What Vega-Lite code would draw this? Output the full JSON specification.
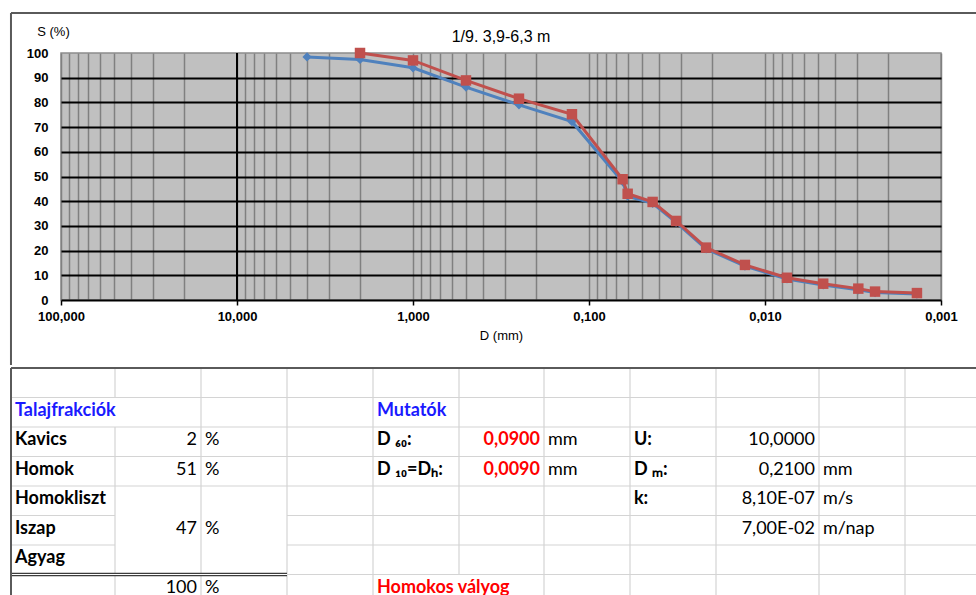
{
  "$schema": "https://vega.github.io/schema/vega-lite/v6.json",
  "background": "white",
  "padding": {"left": 9, "top": 11, "right": 0, "bottom": 0},
  "spacing": 0,
  "datasets": {
    "grading": [
      {"series": "mérés 1", "D": 4, "S": 98.4},
      {"series": "mérés 1", "D": 2, "S": 97.4},
      {"series": "mérés 1", "D": 1, "S": 94.0},
      {"series": "mérés 1", "D": 0.5, "S": 86.2},
      {"series": "mérés 1", "D": 0.25, "S": 79.0},
      {"series": "mérés 1", "D": 0.125, "S": 72.2},
      {"series": "mérés 1", "D": 0.0644, "S": 47.9},
      {"series": "mérés 1", "D": 0.0603, "S": 42.0},
      {"series": "mérés 1", "D": 0.0435, "S": 39.1},
      {"series": "mérés 1", "D": 0.032, "S": 31.4},
      {"series": "mérés 1", "D": 0.0216, "S": 20.7},
      {"series": "mérés 1", "D": 0.013, "S": 13.7},
      {"series": "mérés 1", "D": 0.0075, "S": 8.5},
      {"series": "mérés 1", "D": 0.00467, "S": 6.1},
      {"series": "mérés 1", "D": 0.00295, "S": 4.1},
      {"series": "mérés 1", "D": 0.00237, "S": 3.0},
      {"series": "mérés 1", "D": 0.00137, "S": 2.4},
      {"series": "mérés 2", "D": 2, "S": 100},
      {"series": "mérés 2", "D": 1, "S": 97.0},
      {"series": "mérés 2", "D": 0.5, "S": 88.9},
      {"series": "mérés 2", "D": 0.25, "S": 81.5},
      {"series": "mérés 2", "D": 0.125, "S": 75.2},
      {"series": "mérés 2", "D": 0.0644, "S": 48.9},
      {"series": "mérés 2", "D": 0.0603, "S": 43.0},
      {"series": "mérés 2", "D": 0.0435, "S": 39.7},
      {"series": "mérés 2", "D": 0.032, "S": 32.0},
      {"series": "mérés 2", "D": 0.0216, "S": 21.2},
      {"series": "mérés 2", "D": 0.013, "S": 14.2},
      {"series": "mérés 2", "D": 0.0075, "S": 9.0},
      {"series": "mérés 2", "D": 0.00467, "S": 6.6},
      {"series": "mérés 2", "D": 0.00295, "S": 4.6},
      {"series": "mérés 2", "D": 0.00237, "S": 3.4},
      {"series": "mérés 2", "D": 0.00137, "S": 2.8}
    ],
    "cells": [
      {"r": 1, "c0": 0, "c1": 2, "text": "Talajfrakciók", "kind": "heading"},
      {"r": 1, "c0": 4, "c1": 5, "text": "Mutatók", "kind": "heading"},
      {"r": 2, "c0": 0, "c1": 1, "text": "Kavics", "kind": "label"},
      {"r": 2, "c0": 1, "c1": 2, "text": "2", "kind": "number"},
      {"r": 2, "c0": 2, "c1": 3, "text": "%", "kind": "unit"},
      {"r": 2, "c0": 4, "c1": 5, "text": "D ₆₀:", "kind": "label"},
      {"r": 2, "c0": 5, "c1": 6, "text": "0,0900", "kind": "result"},
      {"r": 2, "c0": 6, "c1": 7, "text": "mm", "kind": "unit"},
      {"r": 2, "c0": 7, "c1": 8, "text": "U:", "kind": "label"},
      {"r": 2, "c0": 8, "c1": 9, "text": "10,0000", "kind": "number"},
      {"r": 3, "c0": 0, "c1": 1, "text": "Homok", "kind": "label"},
      {"r": 3, "c0": 1, "c1": 2, "text": "51", "kind": "number"},
      {"r": 3, "c0": 2, "c1": 3, "text": "%", "kind": "unit"},
      {"r": 3, "c0": 4, "c1": 5, "text": "D ₁₀=Dₕ:", "kind": "label"},
      {"r": 3, "c0": 5, "c1": 6, "text": "0,0090", "kind": "result"},
      {"r": 3, "c0": 6, "c1": 7, "text": "mm", "kind": "unit"},
      {"r": 3, "c0": 7, "c1": 8, "text": "D ₘ:", "kind": "label"},
      {"r": 3, "c0": 8, "c1": 9, "text": "0,2100", "kind": "number"},
      {"r": 3, "c0": 9, "c1": 10, "text": "mm", "kind": "unit"},
      {"r": 4, "c0": 0, "c1": 1, "text": "Homokliszt", "kind": "label"},
      {"r": 4, "c0": 7, "c1": 8, "text": "k:", "kind": "label"},
      {"r": 4, "c0": 8, "c1": 9, "text": "8,10E-07", "kind": "number"},
      {"r": 4, "c0": 9, "c1": 10, "text": "m/s", "kind": "unit"},
      {"r": 5, "c0": 0, "c1": 1, "text": "Iszap", "kind": "label"},
      {"r": 5, "c0": 1, "c1": 2, "text": "47", "kind": "number"},
      {"r": 5, "c0": 2, "c1": 3, "text": "%", "kind": "unit"},
      {"r": 5, "c0": 8, "c1": 9, "text": "7,00E-02", "kind": "number"},
      {"r": 5, "c0": 9, "c1": 10, "text": "m/nap", "kind": "unit"},
      {"r": 6, "c0": 0, "c1": 1, "text": "Agyag", "kind": "label"},
      {"r": 7, "c0": 1, "c1": 2, "text": "100", "kind": "number"},
      {"r": 7, "c0": 2, "c1": 3, "text": "%", "kind": "unit"},
      {"r": 7, "c0": 4, "c1": 6, "text": "Homokos vályog", "kind": "class"}
    ],
    "rowLines": [
      {"r": 1, "c0": 0, "c1": 11},
      {"r": 2, "c0": 0, "c1": 11},
      {"r": 3, "c0": 0, "c1": 11},
      {"r": 4, "c0": 0, "c1": 11},
      {"r": 5, "c0": 0, "c1": 1},
      {"r": 5, "c0": 3, "c1": 11},
      {"r": 6, "c0": 0, "c1": 1},
      {"r": 6, "c0": 3, "c1": 11},
      {"r": 7, "c0": 3, "c1": 11}
    ],
    "totalLine": [
      {"r": 7, "c0": 0, "c1": 3}
    ],
    "colLines": [
      {"c": 1, "r0": 0, "r1": 1},
      {"c": 1, "r0": 2, "r1": 8},
      {"c": 2, "r0": 0, "r1": 8},
      {"c": 3, "r0": 0, "r1": 8},
      {"c": 4, "r0": 0, "r1": 8},
      {"c": 5, "r0": 0, "r1": 7},
      {"c": 6, "r0": 0, "r1": 8},
      {"c": 7, "r0": 0, "r1": 8},
      {"c": 8, "r0": 0, "r1": 8},
      {"c": 9, "r0": 0, "r1": 8},
      {"c": 10, "r0": 0, "r1": 8}
    ],
    "sheetEdge": [
      {"r0": 0, "r1": 8, "c0": 0, "c1": 11}
    ],
    "chartFrame": [
      {"Dleft": 192.4, "Dright": 0.000632, "Stop": 116.2, "Sbottom": -26.3}
    ]
  },
  "vconcat": [
    {
      "width": 880,
      "height": 247,
      "view": {"fill": "#c0c0c0", "stroke": "#8c8c8c", "strokeWidth": 1.5},
      "title": {
        "text": "1/9. 3,9-6,3 m",
        "frame": "group",
        "anchor": "middle",
        "baseline": "middle",
        "offset": -41,
        "font": "Liberation Sans",
        "fontSize": 16,
        "fontWeight": "normal",
        "color": "#000000"
      },
      "layer": [
        {
          "data": {"name": "chartFrame"},
          "mark": {"type": "rule", "color": "#5a5a5a", "strokeWidth": 2},
          "encoding": {
            "x": {"field": "Dleft", "type": "quantitative", "scale": {"type": "log", "domain": [0.001, 100], "reverse": true, "nice": false},
              "axis": {"values": [100, 90, 80, 70, 60, 50, 40, 30, 20, 10, 9, 8, 7, 6, 5, 4, 3, 2, 1, 0.9, 0.8, 0.7, 0.6, 0.5, 0.4, 0.3, 0.2, 0.1, 0.09, 0.08, 0.07, 0.06, 0.05, 0.04, 0.03, 0.02, 0.01, 0.009, 0.008, 0.007, 0.006, 0.005, 0.004, 0.003, 0.002, 0.001], "grid": true, "gridColor": "#808080", "gridWidth": 1.5, "domain": true, "domainColor": "#000000", "domainWidth": 2, "ticks": true, "tickColor": "#000000", "tickWidth": 1.5, "tickSize": 5, "tickOpacity": {"condition": {"test": "abs(log(datum.value)/LN10 - round(log(datum.value)/LN10)) < 0.001", "value": 1}, "value": 0}, "labelExpr": "abs(log(datum.value)/LN10 - round(log(datum.value)/LN10)) < 0.001 ? replace(format(datum.value, '.3f'), '.', ',') : ''", "labelOverlap": false, "labelFlush": false, "labelFont": "Liberation Sans", "labelFontSize": 13, "labelFontWeight": "bold", "labelColor": "#000000", "labelPadding": 5, "title": "D (mm)", "titleFont": "Liberation Sans", "titleFontSize": 13, "titleFontWeight": "normal", "titleColor": "#000000", "titlePadding": 6}},
            "x2": {"field": "Dright"},
            "y": {"field": "Stop", "type": "quantitative", "scale": {"domain": [0, 100], "nice": false},
              "axis": {"values": [0, 10, 20, 30, 40, 50, 60, 70, 80, 90, 100], "grid": true, "gridColor": "#000000", "gridWidth": 2, "gridOpacity": {"condition": {"test": "datum.value == 0 || datum.value == 100", "value": 0}, "value": 1}, "domain": false, "ticks": false, "labelOverlap": false, "labelFont": "Liberation Sans", "labelFontSize": 13, "labelFontWeight": "bold", "labelColor": "#000000", "labelPadding": 13, "title": "S (%)", "titleAngle": 0, "titleX": -8, "titleY": -22, "titleAlign": "center", "titleBaseline": "middle", "titleFont": "Liberation Sans", "titleFontSize": 13, "titleFontWeight": "normal", "titleColor": "#000000"}}
          }
        },
        {
          "data": {"name": "chartFrame"},
          "mark": {"type": "rule", "color": "#5a5a5a", "strokeWidth": 2},
          "encoding": {
            "x": {"field": "Dleft", "type": "quantitative", "scale": {"type": "log", "domain": [0.001, 100], "reverse": true, "nice": false},
              "axis": {"values": [100, 90, 80, 70, 60, 50, 40, 30, 20, 10, 9, 8, 7, 6, 5, 4, 3, 2, 1, 0.9, 0.8, 0.7, 0.6, 0.5, 0.4, 0.3, 0.2, 0.1, 0.09, 0.08, 0.07, 0.06, 0.05, 0.04, 0.03, 0.02, 0.01, 0.009, 0.008, 0.007, 0.006, 0.005, 0.004, 0.003, 0.002, 0.001], "grid": true, "gridColor": "#808080", "gridWidth": 1.5, "domain": true, "domainColor": "#000000", "domainWidth": 2, "ticks": true, "tickColor": "#000000", "tickWidth": 1.5, "tickSize": 5, "tickOpacity": {"condition": {"test": "abs(log(datum.value)/LN10 - round(log(datum.value)/LN10)) < 0.001", "value": 1}, "value": 0}, "labelExpr": "abs(log(datum.value)/LN10 - round(log(datum.value)/LN10)) < 0.001 ? replace(format(datum.value, '.3f'), '.', ',') : ''", "labelOverlap": false, "labelFlush": false, "labelFont": "Liberation Sans", "labelFontSize": 13, "labelFontWeight": "bold", "labelColor": "#000000", "labelPadding": 5, "title": "D (mm)", "titleFont": "Liberation Sans", "titleFontSize": 13, "titleFontWeight": "normal", "titleColor": "#000000", "titlePadding": 6}},
            "y": {"field": "Stop", "type": "quantitative", "scale": {"domain": [0, 100], "nice": false},
              "axis": {"values": [0, 10, 20, 30, 40, 50, 60, 70, 80, 90, 100], "grid": true, "gridColor": "#000000", "gridWidth": 2, "gridOpacity": {"condition": {"test": "datum.value == 0 || datum.value == 100", "value": 0}, "value": 1}, "domain": false, "ticks": false, "labelOverlap": false, "labelFont": "Liberation Sans", "labelFontSize": 13, "labelFontWeight": "bold", "labelColor": "#000000", "labelPadding": 13, "title": "S (%)", "titleAngle": 0, "titleX": -8, "titleY": -22, "titleAlign": "center", "titleBaseline": "middle", "titleFont": "Liberation Sans", "titleFontSize": 13, "titleFontWeight": "normal", "titleColor": "#000000"}},
            "y2": {"field": "Sbottom"}
          }
        },
        {
          "data": {"name": "chartFrame"},
          "mark": {"type": "rule", "color": "#000000", "strokeWidth": 2},
          "encoding": {
            "x": {"datum": 10, "type": "quantitative", "scale": {"type": "log", "domain": [0.001, 100], "reverse": true, "nice": false},
              "axis": {"values": [100, 90, 80, 70, 60, 50, 40, 30, 20, 10, 9, 8, 7, 6, 5, 4, 3, 2, 1, 0.9, 0.8, 0.7, 0.6, 0.5, 0.4, 0.3, 0.2, 0.1, 0.09, 0.08, 0.07, 0.06, 0.05, 0.04, 0.03, 0.02, 0.01, 0.009, 0.008, 0.007, 0.006, 0.005, 0.004, 0.003, 0.002, 0.001], "grid": true, "gridColor": "#808080", "gridWidth": 1.5, "domain": true, "domainColor": "#000000", "domainWidth": 2, "ticks": true, "tickColor": "#000000", "tickWidth": 1.5, "tickSize": 5, "tickOpacity": {"condition": {"test": "abs(log(datum.value)/LN10 - round(log(datum.value)/LN10)) < 0.001", "value": 1}, "value": 0}, "labelExpr": "abs(log(datum.value)/LN10 - round(log(datum.value)/LN10)) < 0.001 ? replace(format(datum.value, '.3f'), '.', ',') : ''", "labelOverlap": false, "labelFlush": false, "labelFont": "Liberation Sans", "labelFontSize": 13, "labelFontWeight": "bold", "labelColor": "#000000", "labelPadding": 5, "title": "D (mm)", "titleFont": "Liberation Sans", "titleFontSize": 13, "titleFontWeight": "normal", "titleColor": "#000000", "titlePadding": 6}}
          }
        },
        {
          "data": {"name": "grading"},
          "transform": [{"filter": "datum.series == 'mérés 1'"}],
          "mark": {"type": "line", "color": "#4f81bd", "strokeWidth": 3},
          "encoding": {
            "x": {"field": "D", "type": "quantitative", "scale": {"type": "log", "domain": [0.001, 100], "reverse": true, "nice": false},
              "axis": {"values": [100, 90, 80, 70, 60, 50, 40, 30, 20, 10, 9, 8, 7, 6, 5, 4, 3, 2, 1, 0.9, 0.8, 0.7, 0.6, 0.5, 0.4, 0.3, 0.2, 0.1, 0.09, 0.08, 0.07, 0.06, 0.05, 0.04, 0.03, 0.02, 0.01, 0.009, 0.008, 0.007, 0.006, 0.005, 0.004, 0.003, 0.002, 0.001], "grid": true, "gridColor": "#808080", "gridWidth": 1.5, "domain": true, "domainColor": "#000000", "domainWidth": 2, "ticks": true, "tickColor": "#000000", "tickWidth": 1.5, "tickSize": 5, "tickOpacity": {"condition": {"test": "abs(log(datum.value)/LN10 - round(log(datum.value)/LN10)) < 0.001", "value": 1}, "value": 0}, "labelExpr": "abs(log(datum.value)/LN10 - round(log(datum.value)/LN10)) < 0.001 ? replace(format(datum.value, '.3f'), '.', ',') : ''", "labelOverlap": false, "labelFlush": false, "labelFont": "Liberation Sans", "labelFontSize": 13, "labelFontWeight": "bold", "labelColor": "#000000", "labelPadding": 5, "title": "D (mm)", "titleFont": "Liberation Sans", "titleFontSize": 13, "titleFontWeight": "normal", "titleColor": "#000000", "titlePadding": 6}},
            "y": {"field": "S", "type": "quantitative", "scale": {"domain": [0, 100], "nice": false},
              "axis": {"values": [0, 10, 20, 30, 40, 50, 60, 70, 80, 90, 100], "grid": true, "gridColor": "#000000", "gridWidth": 2, "gridOpacity": {"condition": {"test": "datum.value == 0 || datum.value == 100", "value": 0}, "value": 1}, "domain": false, "ticks": false, "labelOverlap": false, "labelFont": "Liberation Sans", "labelFontSize": 13, "labelFontWeight": "bold", "labelColor": "#000000", "labelPadding": 13, "title": "S (%)", "titleAngle": 0, "titleX": -8, "titleY": -22, "titleAlign": "center", "titleBaseline": "middle", "titleFont": "Liberation Sans", "titleFontSize": 13, "titleFontWeight": "normal", "titleColor": "#000000"}}
          }
        },
        {
          "data": {"name": "grading"},
          "transform": [{"filter": "datum.series == 'mérés 1'"}],
          "mark": {"type": "point", "shape": "diamond", "filled": true, "opacity": 1, "size": 85, "color": "#4f81bd"},
          "encoding": {
            "x": {"field": "D", "type": "quantitative", "scale": {"type": "log", "domain": [0.001, 100], "reverse": true, "nice": false},
              "axis": {"values": [100, 90, 80, 70, 60, 50, 40, 30, 20, 10, 9, 8, 7, 6, 5, 4, 3, 2, 1, 0.9, 0.8, 0.7, 0.6, 0.5, 0.4, 0.3, 0.2, 0.1, 0.09, 0.08, 0.07, 0.06, 0.05, 0.04, 0.03, 0.02, 0.01, 0.009, 0.008, 0.007, 0.006, 0.005, 0.004, 0.003, 0.002, 0.001], "grid": true, "gridColor": "#808080", "gridWidth": 1.5, "domain": true, "domainColor": "#000000", "domainWidth": 2, "ticks": true, "tickColor": "#000000", "tickWidth": 1.5, "tickSize": 5, "tickOpacity": {"condition": {"test": "abs(log(datum.value)/LN10 - round(log(datum.value)/LN10)) < 0.001", "value": 1}, "value": 0}, "labelExpr": "abs(log(datum.value)/LN10 - round(log(datum.value)/LN10)) < 0.001 ? replace(format(datum.value, '.3f'), '.', ',') : ''", "labelOverlap": false, "labelFlush": false, "labelFont": "Liberation Sans", "labelFontSize": 13, "labelFontWeight": "bold", "labelColor": "#000000", "labelPadding": 5, "title": "D (mm)", "titleFont": "Liberation Sans", "titleFontSize": 13, "titleFontWeight": "normal", "titleColor": "#000000", "titlePadding": 6}},
            "y": {"field": "S", "type": "quantitative", "scale": {"domain": [0, 100], "nice": false},
              "axis": {"values": [0, 10, 20, 30, 40, 50, 60, 70, 80, 90, 100], "grid": true, "gridColor": "#000000", "gridWidth": 2, "gridOpacity": {"condition": {"test": "datum.value == 0 || datum.value == 100", "value": 0}, "value": 1}, "domain": false, "ticks": false, "labelOverlap": false, "labelFont": "Liberation Sans", "labelFontSize": 13, "labelFontWeight": "bold", "labelColor": "#000000", "labelPadding": 13, "title": "S (%)", "titleAngle": 0, "titleX": -8, "titleY": -22, "titleAlign": "center", "titleBaseline": "middle", "titleFont": "Liberation Sans", "titleFontSize": 13, "titleFontWeight": "normal", "titleColor": "#000000"}}
          }
        },
        {
          "data": {"name": "grading"},
          "transform": [{"filter": "datum.series == 'mérés 2'"}],
          "mark": {"type": "line", "color": "#c0504d", "strokeWidth": 3},
          "encoding": {
            "x": {"field": "D", "type": "quantitative", "scale": {"type": "log", "domain": [0.001, 100], "reverse": true, "nice": false},
              "axis": {"values": [100, 90, 80, 70, 60, 50, 40, 30, 20, 10, 9, 8, 7, 6, 5, 4, 3, 2, 1, 0.9, 0.8, 0.7, 0.6, 0.5, 0.4, 0.3, 0.2, 0.1, 0.09, 0.08, 0.07, 0.06, 0.05, 0.04, 0.03, 0.02, 0.01, 0.009, 0.008, 0.007, 0.006, 0.005, 0.004, 0.003, 0.002, 0.001], "grid": true, "gridColor": "#808080", "gridWidth": 1.5, "domain": true, "domainColor": "#000000", "domainWidth": 2, "ticks": true, "tickColor": "#000000", "tickWidth": 1.5, "tickSize": 5, "tickOpacity": {"condition": {"test": "abs(log(datum.value)/LN10 - round(log(datum.value)/LN10)) < 0.001", "value": 1}, "value": 0}, "labelExpr": "abs(log(datum.value)/LN10 - round(log(datum.value)/LN10)) < 0.001 ? replace(format(datum.value, '.3f'), '.', ',') : ''", "labelOverlap": false, "labelFlush": false, "labelFont": "Liberation Sans", "labelFontSize": 13, "labelFontWeight": "bold", "labelColor": "#000000", "labelPadding": 5, "title": "D (mm)", "titleFont": "Liberation Sans", "titleFontSize": 13, "titleFontWeight": "normal", "titleColor": "#000000", "titlePadding": 6}},
            "y": {"field": "S", "type": "quantitative", "scale": {"domain": [0, 100], "nice": false},
              "axis": {"values": [0, 10, 20, 30, 40, 50, 60, 70, 80, 90, 100], "grid": true, "gridColor": "#000000", "gridWidth": 2, "gridOpacity": {"condition": {"test": "datum.value == 0 || datum.value == 100", "value": 0}, "value": 1}, "domain": false, "ticks": false, "labelOverlap": false, "labelFont": "Liberation Sans", "labelFontSize": 13, "labelFontWeight": "bold", "labelColor": "#000000", "labelPadding": 13, "title": "S (%)", "titleAngle": 0, "titleX": -8, "titleY": -22, "titleAlign": "center", "titleBaseline": "middle", "titleFont": "Liberation Sans", "titleFontSize": 13, "titleFontWeight": "normal", "titleColor": "#000000"}}
          }
        },
        {
          "data": {"name": "grading"},
          "transform": [{"filter": "datum.series == 'mérés 2'"}],
          "mark": {"type": "point", "shape": "square", "filled": true, "opacity": 1, "size": 110, "color": "#c0504d"},
          "encoding": {
            "x": {"field": "D", "type": "quantitative", "scale": {"type": "log", "domain": [0.001, 100], "reverse": true, "nice": false},
              "axis": {"values": [100, 90, 80, 70, 60, 50, 40, 30, 20, 10, 9, 8, 7, 6, 5, 4, 3, 2, 1, 0.9, 0.8, 0.7, 0.6, 0.5, 0.4, 0.3, 0.2, 0.1, 0.09, 0.08, 0.07, 0.06, 0.05, 0.04, 0.03, 0.02, 0.01, 0.009, 0.008, 0.007, 0.006, 0.005, 0.004, 0.003, 0.002, 0.001], "grid": true, "gridColor": "#808080", "gridWidth": 1.5, "domain": true, "domainColor": "#000000", "domainWidth": 2, "ticks": true, "tickColor": "#000000", "tickWidth": 1.5, "tickSize": 5, "tickOpacity": {"condition": {"test": "abs(log(datum.value)/LN10 - round(log(datum.value)/LN10)) < 0.001", "value": 1}, "value": 0}, "labelExpr": "abs(log(datum.value)/LN10 - round(log(datum.value)/LN10)) < 0.001 ? replace(format(datum.value, '.3f'), '.', ',') : ''", "labelOverlap": false, "labelFlush": false, "labelFont": "Liberation Sans", "labelFontSize": 13, "labelFontWeight": "bold", "labelColor": "#000000", "labelPadding": 5, "title": "D (mm)", "titleFont": "Liberation Sans", "titleFontSize": 13, "titleFontWeight": "normal", "titleColor": "#000000", "titlePadding": 6}},
            "y": {"field": "S", "type": "quantitative", "scale": {"domain": [0, 100], "nice": false},
              "axis": {"values": [0, 10, 20, 30, 40, 50, 60, 70, 80, 90, 100], "grid": true, "gridColor": "#000000", "gridWidth": 2, "gridOpacity": {"condition": {"test": "datum.value == 0 || datum.value == 100", "value": 0}, "value": 1}, "domain": false, "ticks": false, "labelOverlap": false, "labelFont": "Liberation Sans", "labelFontSize": 13, "labelFontWeight": "bold", "labelColor": "#000000", "labelPadding": 13, "title": "S (%)", "titleAngle": 0, "titleX": -8, "titleY": -22, "titleAlign": "center", "titleBaseline": "middle", "titleFont": "Liberation Sans", "titleFontSize": 13, "titleFontWeight": "normal", "titleColor": "#000000"}}
          }
        }
      ]
    },
    {
      "width": 880,
      "height": 229,
      "view": {"stroke": null},
      "layer": [
        {
          "data": {"name": "rowLines"},
          "mark": {"type": "rule", "color": "#d4d4d4", "strokeWidth": 1.2},
          "encoding": {
            "x": {"field": "c0", "type": "quantitative", "axis": null, "scale": {"domain": [0, 1, 2, 3, 4, 5, 6, 7, 8, 9, 10, 11], "range": [-50, 54, 140, 226, 312, 398, 483, 569, 655, 758, 844, 915], "zero": false, "nice": false}},
            "x2": {"field": "c1"},
            "y": {"field": "r", "type": "quantitative", "axis": null, "scale": {"domain": [0, 1, 2, 3, 4, 5, 6, 7, 8], "range": [0, 29.5, 59, 88.5, 118, 147.5, 177, 206.5, 229], "zero": false, "nice": false}}
          }
        },
        {
          "data": {"name": "colLines"},
          "mark": {"type": "rule", "color": "#d4d4d4", "strokeWidth": 1.2},
          "encoding": {
            "x": {"field": "c", "type": "quantitative", "axis": null, "scale": {"domain": [0, 1, 2, 3, 4, 5, 6, 7, 8, 9, 10, 11], "range": [-50, 54, 140, 226, 312, 398, 483, 569, 655, 758, 844, 915], "zero": false, "nice": false}},
            "y": {"field": "r0", "type": "quantitative", "axis": null, "scale": {"domain": [0, 1, 2, 3, 4, 5, 6, 7, 8], "range": [0, 29.5, 59, 88.5, 118, 147.5, 177, 206.5, 229], "zero": false, "nice": false}},
            "y2": {"field": "r1"}
          }
        },
        {
          "data": {"name": "totalLine"},
          "mark": {"type": "rule", "color": "#3c3c3c", "strokeWidth": 3.6},
          "encoding": {
            "x": {"field": "c0", "type": "quantitative", "axis": null, "scale": {"domain": [0, 1, 2, 3, 4, 5, 6, 7, 8, 9, 10, 11], "range": [-50, 54, 140, 226, 312, 398, 483, 569, 655, 758, 844, 915], "zero": false, "nice": false}},
            "x2": {"field": "c1"},
            "y": {"field": "r", "type": "quantitative", "axis": null, "scale": {"domain": [0, 1, 2, 3, 4, 5, 6, 7, 8], "range": [0, 29.5, 59, 88.5, 118, 147.5, 177, 206.5, 229], "zero": false, "nice": false}}
          }
        },
        {
          "data": {"name": "totalLine"},
          "mark": {"type": "rule", "color": "#ffffff", "strokeWidth": 1.2},
          "encoding": {
            "x": {"field": "c0", "type": "quantitative", "axis": null, "scale": {"domain": [0, 1, 2, 3, 4, 5, 6, 7, 8, 9, 10, 11], "range": [-50, 54, 140, 226, 312, 398, 483, 569, 655, 758, 844, 915], "zero": false, "nice": false}},
            "x2": {"field": "c1"},
            "y": {"field": "r", "type": "quantitative", "axis": null, "scale": {"domain": [0, 1, 2, 3, 4, 5, 6, 7, 8], "range": [0, 29.5, 59, 88.5, 118, 147.5, 177, 206.5, 229], "zero": false, "nice": false}}
          }
        },
        {
          "data": {"name": "sheetEdge"},
          "mark": {"type": "rule", "color": "#5a5a5a", "strokeWidth": 2},
          "encoding": {
            "x": {"field": "c0", "type": "quantitative", "axis": null, "scale": {"domain": [0, 1, 2, 3, 4, 5, 6, 7, 8, 9, 10, 11], "range": [-50, 54, 140, 226, 312, 398, 483, 569, 655, 758, 844, 915], "zero": false, "nice": false}},
            "x2": {"field": "c1"},
            "y": {"field": "r0", "type": "quantitative", "axis": null, "scale": {"domain": [0, 1, 2, 3, 4, 5, 6, 7, 8], "range": [0, 29.5, 59, 88.5, 118, 147.5, 177, 206.5, 229], "zero": false, "nice": false}}
          }
        },
        {
          "data": {"name": "sheetEdge"},
          "mark": {"type": "rule", "color": "#5a5a5a", "strokeWidth": 2},
          "encoding": {
            "x": {"field": "c0", "type": "quantitative", "axis": null, "scale": {"domain": [0, 1, 2, 3, 4, 5, 6, 7, 8, 9, 10, 11], "range": [-50, 54, 140, 226, 312, 398, 483, 569, 655, 758, 844, 915], "zero": false, "nice": false}},
            "y": {"field": "r0", "type": "quantitative", "axis": null, "scale": {"domain": [0, 1, 2, 3, 4, 5, 6, 7, 8], "range": [0, 29.5, 59, 88.5, 118, 147.5, 177, 206.5, 229], "zero": false, "nice": false}},
            "y2": {"field": "r1"}
          }
        },
        {
          "data": {"name": "cells"},
          "transform": [{"filter": "datum.kind == 'heading'"}],
          "mark": {"type": "text", "align": "left", "baseline": "middle", "dx": 4, "dy": 13, "font": "Lato", "fontSize": 18, "fontWeight": "bold", "color": "#1a1aff"},
          "encoding": {
            "x": {"field": "c0", "type": "quantitative", "axis": null, "scale": {"domain": [0, 1, 2, 3, 4, 5, 6, 7, 8, 9, 10, 11], "range": [-50, 54, 140, 226, 312, 398, 483, 569, 655, 758, 844, 915], "zero": false, "nice": false}},
            "y": {"field": "r", "type": "quantitative", "axis": null, "scale": {"domain": [0, 1, 2, 3, 4, 5, 6, 7, 8], "range": [0, 29.5, 59, 88.5, 118, 147.5, 177, 206.5, 229], "zero": false, "nice": false}},
            "text": {"field": "text"}
          }
        },
        {
          "data": {"name": "cells"},
          "transform": [{"filter": "datum.kind == 'label'"}],
          "mark": {"type": "text", "align": "left", "baseline": "middle", "dx": 4, "dy": 13, "font": "Lato", "fontSize": 18, "fontWeight": "bold", "color": "#000000"},
          "encoding": {
            "x": {"field": "c0", "type": "quantitative", "axis": null, "scale": {"domain": [0, 1, 2, 3, 4, 5, 6, 7, 8, 9, 10, 11], "range": [-50, 54, 140, 226, 312, 398, 483, 569, 655, 758, 844, 915], "zero": false, "nice": false}},
            "y": {"field": "r", "type": "quantitative", "axis": null, "scale": {"domain": [0, 1, 2, 3, 4, 5, 6, 7, 8], "range": [0, 29.5, 59, 88.5, 118, 147.5, 177, 206.5, 229], "zero": false, "nice": false}},
            "text": {"field": "text"}
          }
        },
        {
          "data": {"name": "cells"},
          "transform": [{"filter": "datum.kind == 'class'"}],
          "mark": {"type": "text", "align": "left", "baseline": "middle", "dx": 4, "dy": 13, "font": "Lato", "fontSize": 18, "fontWeight": "bold", "color": "#ff0000"},
          "encoding": {
            "x": {"field": "c0", "type": "quantitative", "axis": null, "scale": {"domain": [0, 1, 2, 3, 4, 5, 6, 7, 8, 9, 10, 11], "range": [-50, 54, 140, 226, 312, 398, 483, 569, 655, 758, 844, 915], "zero": false, "nice": false}},
            "y": {"field": "r", "type": "quantitative", "axis": null, "scale": {"domain": [0, 1, 2, 3, 4, 5, 6, 7, 8], "range": [0, 29.5, 59, 88.5, 118, 147.5, 177, 206.5, 229], "zero": false, "nice": false}},
            "text": {"field": "text"}
          }
        },
        {
          "data": {"name": "cells"},
          "transform": [{"filter": "datum.kind == 'unit'"}],
          "mark": {"type": "text", "align": "left", "baseline": "middle", "dx": 4, "dy": 13, "font": "Lato", "fontSize": 18, "fontWeight": "normal", "color": "#000000"},
          "encoding": {
            "x": {"field": "c0", "type": "quantitative", "axis": null, "scale": {"domain": [0, 1, 2, 3, 4, 5, 6, 7, 8, 9, 10, 11], "range": [-50, 54, 140, 226, 312, 398, 483, 569, 655, 758, 844, 915], "zero": false, "nice": false}},
            "y": {"field": "r", "type": "quantitative", "axis": null, "scale": {"domain": [0, 1, 2, 3, 4, 5, 6, 7, 8], "range": [0, 29.5, 59, 88.5, 118, 147.5, 177, 206.5, 229], "zero": false, "nice": false}},
            "text": {"field": "text"}
          }
        },
        {
          "data": {"name": "cells"},
          "transform": [{"filter": "datum.kind == 'number'"}],
          "mark": {"type": "text", "align": "right", "baseline": "middle", "dx": -4, "dy": 13, "font": "Lato", "fontSize": 18, "fontWeight": "normal", "color": "#000000"},
          "encoding": {
            "x": {"field": "c1", "type": "quantitative", "axis": null, "scale": {"domain": [0, 1, 2, 3, 4, 5, 6, 7, 8, 9, 10, 11], "range": [-50, 54, 140, 226, 312, 398, 483, 569, 655, 758, 844, 915], "zero": false, "nice": false}},
            "y": {"field": "r", "type": "quantitative", "axis": null, "scale": {"domain": [0, 1, 2, 3, 4, 5, 6, 7, 8], "range": [0, 29.5, 59, 88.5, 118, 147.5, 177, 206.5, 229], "zero": false, "nice": false}},
            "text": {"field": "text"}
          }
        },
        {
          "data": {"name": "cells"},
          "transform": [{"filter": "datum.kind == 'result'"}],
          "mark": {"type": "text", "align": "right", "baseline": "middle", "dx": -4, "dy": 13, "font": "Lato", "fontSize": 18, "fontWeight": "bold", "color": "#ff0000"},
          "encoding": {
            "x": {"field": "c1", "type": "quantitative", "axis": null, "scale": {"domain": [0, 1, 2, 3, 4, 5, 6, 7, 8, 9, 10, 11], "range": [-50, 54, 140, 226, 312, 398, 483, 569, 655, 758, 844, 915], "zero": false, "nice": false}},
            "y": {"field": "r", "type": "quantitative", "axis": null, "scale": {"domain": [0, 1, 2, 3, 4, 5, 6, 7, 8], "range": [0, 29.5, 59, 88.5, 118, 147.5, 177, 206.5, 229], "zero": false, "nice": false}},
            "text": {"field": "text"}
          }
        }
      ]
    }
  ]
}
